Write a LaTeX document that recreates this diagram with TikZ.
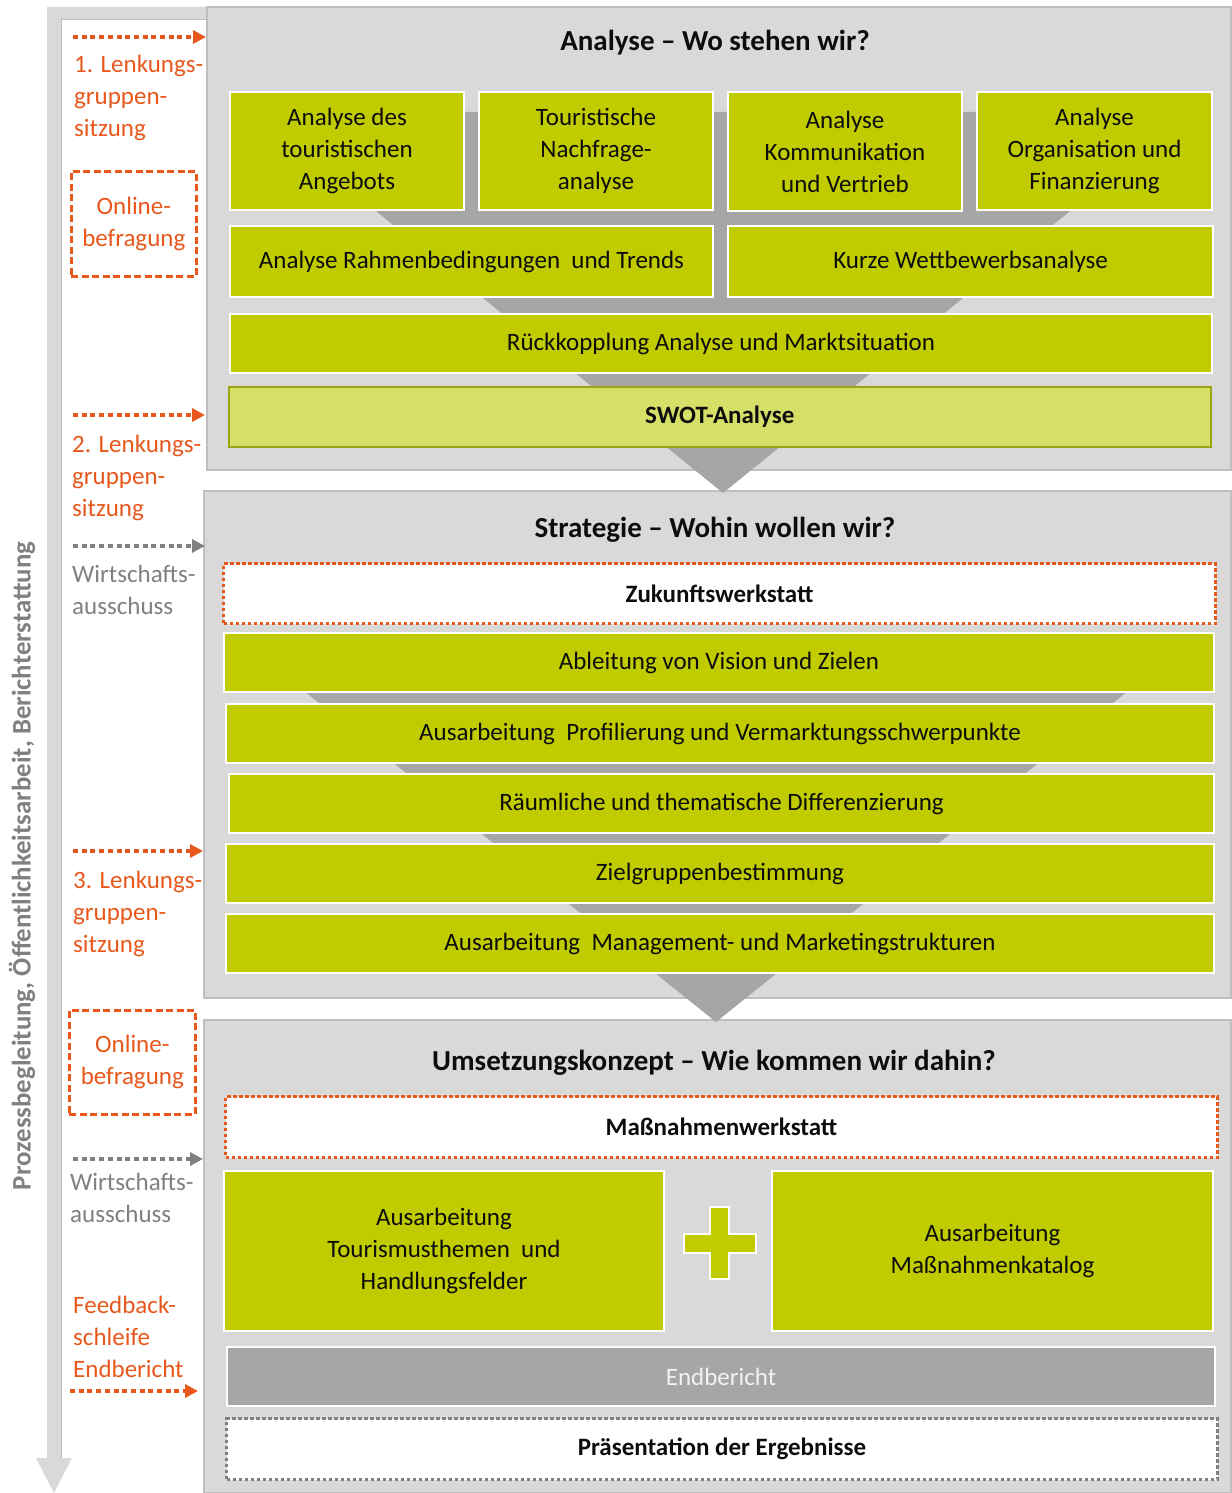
\documentclass[tikz,border=0pt]{standalone}
\usepackage{fontspec}
\setmainfont{Carlito}
\usetikzlibrary{arrows.meta}
\definecolor{lime}{RGB}{192,204,0}
\definecolor{limel}{RGB}{214,224,104}
\definecolor{olivb}{RGB}{155,165,20}
\definecolor{panel}{RGB}{217,217,217}
\definecolor{panelb}{RGB}{191,191,191}
\definecolor{funnel}{RGB}{166,166,166}
\definecolor{orng}{RGB}{232,88,28}
\definecolor{gtext}{RGB}{128,128,128}
\definecolor{txt}{RGB}{13,13,13}
\newcommand\fsbox{\fontsize{25}{32}\selectfont}
\newcommand\fsttl{\fontsize{29}{34}\selectfont\bfseries}
\begin{document}
\begin{tikzpicture}[x=1pt,y=-1pt,
  panelbox/.style={fill=panel,draw=panelb,line width=1.2pt},
  gbox/.style={anchor=north west,fill=lime,draw=white,line width=2pt,inner sep=0pt,align=center,font=\fsbox,text=txt},
  swotbox/.style={gbox,fill=limel,draw=olivb,line width=1.5pt,font=\fsbox\bfseries},
  wsbox/.style={gbox,fill=white,draw=orng,line width=3pt,dash pattern=on 3.5pt off 2.5pt,font=\fsbox\bfseries},
  presbox/.style={gbox,fill=white,draw=gtext,line width=3pt,dash pattern=on 3.5pt off 2.5pt,font=\fsbox\bfseries},
  endbox/.style={gbox,fill=funnel,text={rgb,255:red,242;green,242;blue,242}},
  ttl/.style={inner sep=0pt,font=\fsttl,text=txt},
  lbl/.style={anchor=north west,inner sep=0pt,align=left,font=\fsbox,text=orng},
  glbl/.style={lbl,text=gtext},
  obox/.style={anchor=north west,draw=orng,line width=2.6pt,dash pattern=on 7pt off 3.5pt,inner sep=0pt,align=center,font=\fsbox,text=orng},
  odot/.style={draw=orng,line width=4.5pt,dash pattern=on 5pt off 3.7pt,-{Triangle[length=13pt,width=13pt]}},
  gdot/.style={odot,draw=gtext}
]
\useasboundingbox (0,0) rectangle (1231,1493);
\fill[white] (0,0) rectangle (1231,1493);

% left process arrow
\fill[panel] (47,7) -- (207,7) -- (207,20) -- (61,20) -- (61,1458) -- (72,1458) -- (54,1493) -- (36,1458) -- (47,1458) -- cycle;
\draw[panelb,line width=1pt] (61,1458) -- (61,20) -- (207,20);
\node[rotate=90,inner sep=0pt,font=\fontsize{26.8}{30}\selectfont\bfseries,text=gtext] (vt) at (22,866) {Prozessbegleitung, Öffentlichkeitsarbeit, Berichterstattung};

% panels
\draw[panelbox] (207,7) rectangle (1231,470);
\draw[panelbox] (204,491) rectangle (1231,998);
\draw[panelbox] (204,1020) rectangle (1231,1493);

% funnels
\fill[funnel] (254,112) -- (1192,112) -- (723,493) -- cycle;
\fill[funnel] (253,650) -- (1179,650) -- (716,1022) -- cycle;

% titles
\node[ttl] (t1) at (715,43) {Analyse \textendash{} Wo stehen wir?};
\node[ttl] (t2) at (715,530) {Strategie \textendash{} Wohin wollen wir?};
\node[ttl] (t3) at (714,1063) {Umsetzungskonzept \textendash{} Wie kommen wir dahin?};

% Analyse boxes
\node[gbox,minimum width=234pt,minimum height=118pt] (a1) at (229,91) {Analyse des\\touristischen\\Angebots};
\node[gbox,minimum width=234pt,minimum height=118pt] (a2) at (478,91) {Touristische\\Nachfrage-\\analyse};
\node[gbox,minimum width=234pt,minimum height=119pt] (a3) at (727,91) {Analyse\\Kommunikation\\und Vertrieb};
\node[gbox,minimum width=235pt,minimum height=118pt] (a4) at (976,91) {Analyse\\Organisation und\\Finanzierung};
\node[gbox,minimum width=483pt,minimum height=71pt] (b1) at (229,225) {Analyse Rahmenbedingungen~ und Trends};
\node[gbox,minimum width=485pt,minimum height=71pt] (b2) at (727,225) {Kurze Wettbewerbsanalyse};
\node[gbox,minimum width=982pt,minimum height=59pt] (c1) at (229,313) {Rückkopplung Analyse und Marktsituation};
\node[swotbox,minimum width=982pt,minimum height=60pt] (swot) at (228,386) {SWOT-Analyse};

% Strategie boxes
\node[wsbox,minimum width=992pt,minimum height=60pt] (zw) at (222,562) {Zukunftswerkstatt};
\node[gbox,minimum width=990pt,minimum height=59pt] (s1) at (223,632) {Ableitung von Vision und Zielen};
\node[gbox,minimum width=988pt,minimum height=59pt] (s2) at (225,703) {Ausarbeitung~ Profilierung und Vermarktungsschwerpunkte};
\node[gbox,minimum width=985pt,minimum height=59pt] (s3) at (228,773) {Räumliche und thematische Differenzierung};
\node[gbox,minimum width=988pt,minimum height=59pt] (s4) at (225,843) {Zielgruppenbestimmung};
\node[gbox,minimum width=988pt,minimum height=59pt] (s5) at (225,913) {Ausarbeitung~ Management- und Marketingstrukturen};

% Umsetzung boxes
\node[wsbox,minimum width=992pt,minimum height=61pt] (mw) at (224,1095) {Maßnahmenwerkstatt};
\node[gbox,minimum width=440pt,minimum height=160pt] (u1) at (223,1170) {Ausarbeitung\\Tourismusthemen~ und\\Handlungsfelder};
\node[gbox,minimum width=441pt,minimum height=160pt] (u2) at (771,1170) {Ausarbeitung\\Maßnahmenkatalog};
\draw[fill=lime,draw=white,line width=2pt] (710,1207) -- (729,1207) -- (729,1234) -- (756,1234) -- (756,1253) -- (729,1253) -- (729,1279) -- (710,1279) -- (710,1253) -- (684,1253) -- (684,1234) -- (710,1234) -- cycle;
\node[endbox,minimum width=988pt,minimum height=59pt] (eb) at (226,1346) {Endbericht};
\node[presbox,minimum width=991pt,minimum height=61pt] (pr) at (225,1417) {Präsentation der Ergebnisse};

% left column labels and arrows
\coordinate (o1s) at (73,37);   \coordinate (o1e) at (206,37);
\draw[odot] (o1s) -- (o1e);
\node[lbl] (l1) at (74,55) {1. Lenkungs-\\gruppen-\\sitzung};
\node[obox,minimum width=125pt,minimum height=105pt] (on1) at (70,170) {Online-\\befragung};
\coordinate (o2s) at (73,415);  \coordinate (o2e) at (205,415);
\draw[odot] (o2s) -- (o2e);
\node[lbl] (l2) at (72,435) {2. Lenkungs-\\gruppen-\\sitzung};
\coordinate (g1s) at (73,546);  \coordinate (g1e) at (205,546);
\draw[gdot] (g1s) -- (g1e);
\node[glbl] (w1) at (72,565) {Wirtschafts-\\ausschuss};
\coordinate (o3s) at (73,851);  \coordinate (o3e) at (203,851);
\draw[odot] (o3s) -- (o3e);
\node[lbl] (l3) at (73,871) {3. Lenkungs-\\gruppen-\\sitzung};
\node[obox,minimum width=126pt,minimum height=104pt] (on2) at (68,1009) {Online-\\befragung};
\coordinate (g2s) at (73,1159); \coordinate (g2e) at (203,1159);
\draw[gdot] (g2s) -- (g2e);
\node[glbl] (w2) at (70,1173) {Wirtschafts-\\ausschuss};
\node[lbl] (fb) at (73,1296) {Feedback-\\schleife\\Endbericht};
\coordinate (o4s) at (70,1391); \coordinate (o4e) at (198,1391);
\draw[odot] (o4s) -- (o4e);
\end{tikzpicture}
\end{document}
